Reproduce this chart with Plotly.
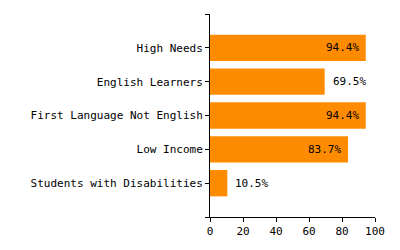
import plotly.graph_objects as go

categories = ["Students with Disabilities", "Low Income", "First Language Not English",
              "English Learners", "High Needs"]
values = [10.5, 83.7, 94.4, 69.5, 94.4]
x_ticks = [0, 20, 40, 60, 80, 100]

labels = [f"{v:.1f}%" for v in values]
positions = list(range(len(categories)))

FONT = "DejaVu Sans Mono"

fig = go.Figure(go.Bar(
    x=values, y=positions, orientation="h",
    marker=dict(color="#FF8C00", line=dict(width=0)),
    width=0.78,
    hoverinfo="skip",
))

for v, p, t in zip(values, positions, labels):
    inside = v > 75
    fig.add_annotation(
        x=v, y=p, text=t, showarrow=False,
        xanchor="right" if inside else "left",
        xshift=-5 if inside else 6,
        yanchor="middle",
        font=dict(family=FONT, size=11, color="black"),
    )

fig.update_layout(
    width=400, height=250,
    margin=dict(l=210, r=25, t=14, b=28),
    paper_bgcolor="white", plot_bgcolor="white",
    font=dict(family=FONT, size=11, color="black"),
    showlegend=False,
)
fig.update_xaxes(
    range=[0, 100], tickvals=x_ticks, showgrid=False, zeroline=False,
    showline=True, linecolor="black", linewidth=1,
    ticks="outside", ticklen=4, tickcolor="black",
    tickfont=dict(family=FONT, size=11, color="black"),
)
fig.update_yaxes(
    range=[-1, len(categories)],
    tickvals=[-1] + positions + [len(categories)],
    ticktext=[""] + categories + [""],
    showgrid=False, zeroline=False,
    showline=True, linecolor="black", linewidth=1,
    ticks="outside", ticklen=4, tickcolor="black",
    tickfont=dict(family=FONT, size=11, color="black"),
)

fig.write_html("out.html")
